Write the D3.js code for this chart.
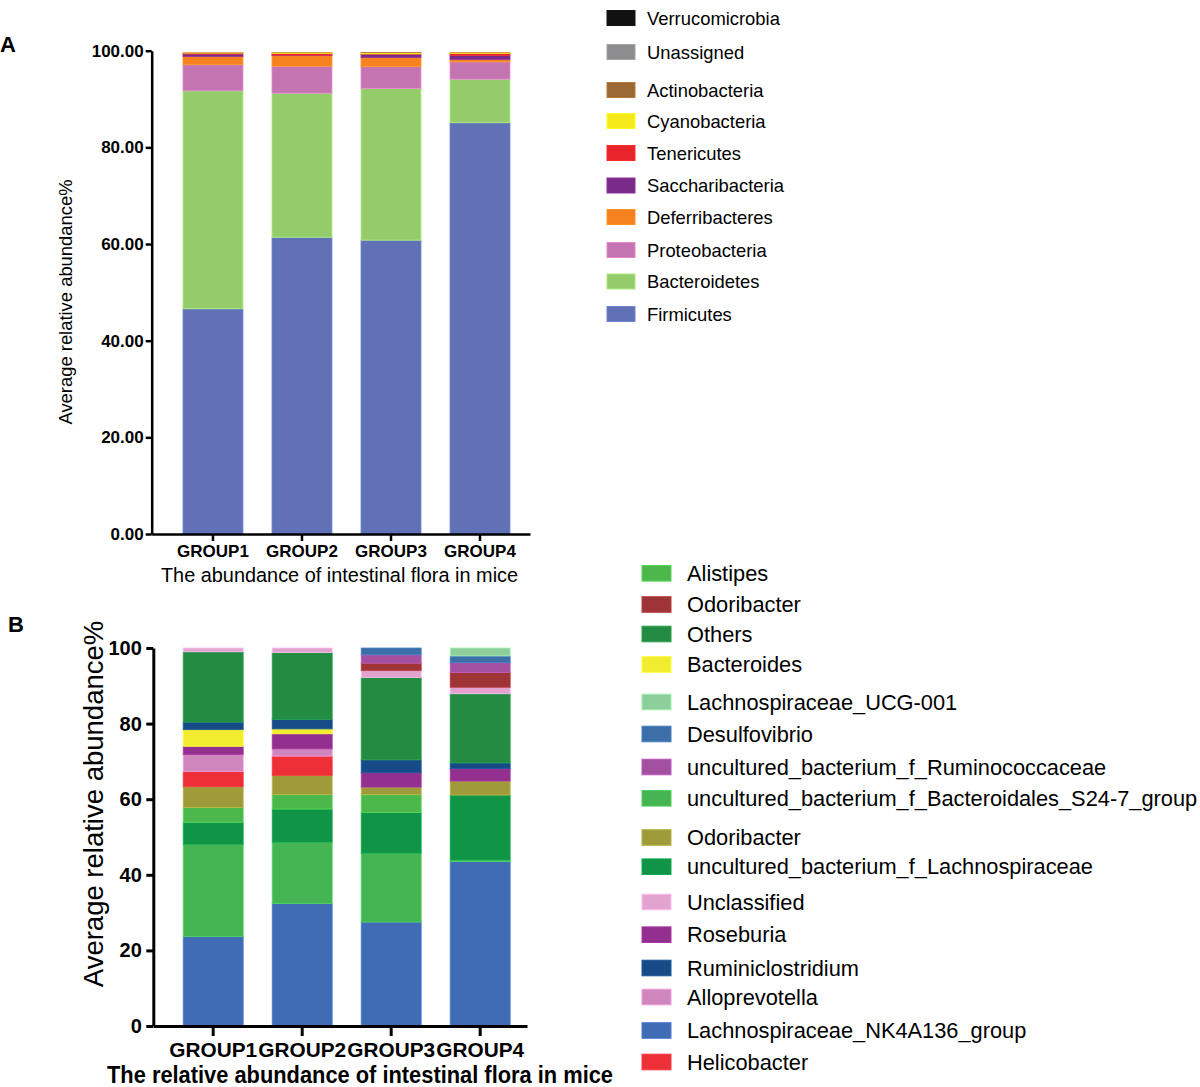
<!DOCTYPE html>
<html>
<head>
<meta charset="utf-8">
<script src="https://cdn.jsdelivr.net/npm/d3@7"></script>
<style>
  body { margin: 0; background: #fff; }
  text { font-family: "Liberation Sans", Arial, Helvetica, sans-serif; fill: #000; }
</style>
</head>
<body>
<svg id="chart" width="1200" height="1087"></svg>
<script>
var groups = ["GROUP1", "GROUP2", "GROUP3", "GROUP4"];

// ---- panel A: phylum level (stack order, bottom first)
var phyla = ["Firmicutes", "Bacteroidetes", "Proteobacteria", "Deferribacteres", "Saccharibacteria",
  "Tenericutes", "Cyanobacteria", "Actinobacteria", "Unassigned", "Verrucomicrobia"];
var phylaColors = ["#6171b6", "#94cc6b", "#c475b1", "#f5821f", "#7a2a88",
  "#e9242a", "#f4ea1a", "#9b6934", "#8d8d8f", "#111111"];
var firmicutes = [46.6, 61.4, 60.8, 85.1];
var bacteroidetes = [45.1, 29.8, 31.4, 9.0];
var proteobacteria = [5.4, 5.6, 4.5, 3.6];
var deferribacteres = [1.7, 2.2, 1.9, 0.5];
var saccharibacteria = [0.5, 0.1, 0.7, 0.85];
var tenericutes = [0.2, 0.35, 0.05, 0.4];
var cyanobacteria = [0.02, 0.12, 0.25, 0.12];
var actinobacteria = [0.01, 0.01, 0.01, 0.01];
var unassigned = [0, 0, 0, 0];
var verrucomicrobia = [0, 0, 0, 0];
var phylaValues = [firmicutes, bacteroidetes, proteobacteria, deferribacteres, saccharibacteria,
  tenericutes, cyanobacteria, actinobacteria, unassigned, verrucomicrobia];
var ticksA = [0, 20, 40, 60, 80, 100];

// ---- panel B: genus level
var alistipes = [3.9, 3.8, 4.7, 0];
var odoribacterRed = [0, 0, 2.0, 3.9];
var others = [18.6, 17.7, 21.8, 18.3];
var bacteroides = [4.4, 1.3, 0, 0];
var lachnoUCG001 = [0, 0, 0, 2.1];
var desulfovibrio = [0, 0, 1.8, 1.8];
var uncRuminococcaceae = [0, 0, 2.2, 2.6];
var uncS24_7 = [24.3, 16.2, 18.2, 0.4];
var odoribacterOlive = [5.5, 5.1, 2.0, 3.7];
var uncLachnospiraceae = [5.9, 8.8, 10.8, 17.2];
var unclassified = [1.0, 1.2, 1.8, 1.7];
var roseburia = [2.2, 4.0, 3.8, 3.3];
var ruminiclostridium = [2.0, 2.5, 3.4, 1.5];
var alloprevotella = [4.5, 1.9, 0, 0];
var nk4a136 = [23.7, 32.4, 27.5, 43.5];
var helicobacter = [4.0, 5.1, 0, 0];

// legend order (top to bottom)
var genera = ["Alistipes", "Odoribacter", "Others", "Bacteroides", "Lachnospiraceae_UCG-001",
  "Desulfovibrio", "uncultured_bacterium_f_Ruminococcaceae", "uncultured_bacterium_f_Bacteroidales_S24-7_group",
  "Odoribacter", "uncultured_bacterium_f_Lachnospiraceae", "Unclassified", "Roseburia",
  "Ruminiclostridium", "Alloprevotella", "Lachnospiraceae_NK4A136_group", "Helicobacter"];
var generaColors = ["#4cb84c", "#9e3436", "#238b42", "#f2ec2e", "#8ccf9a",
  "#3c6ea8", "#a34fa2", "#44b552", "#9f9b3b", "#109445", "#e2a3ce", "#922f8f",
  "#174b87", "#cf86bd", "#406bb5", "#ed2f37"];
var generaValues = [alistipes, odoribacterRed, others, bacteroides, lachnoUCG001,
  desulfovibrio, uncRuminococcaceae, uncS24_7, odoribacterOlive, uncLachnospiraceae,
  unclassified, roseburia, ruminiclostridium, alloprevotella, nk4a136, helicobacter];
// stacking order, bottom first (indices into genera)
var stackOrderB = [14, 7, 9, 0, 8, 15, 13, 11, 3, 12, 2, 10, 1, 6, 5, 4];
var ticksB = [0, 20, 40, 60, 80, 100];

var svg = d3.select("#chart");

function buildTable(values, n) {
  return groups.map(function (g, i) {
    var row = { group: g };
    for (var k = 0; k < n; k++) row["s" + k] = values[k][i];
    return row;
  });
}

// ================= PANEL A =================
var xA = d3.scaleBand().domain(groups).range([151.7, 530])
  .paddingInner(0.3258).paddingOuter(0.288).align(0.61);
var yA = d3.scaleLinear().domain([0, 100]).range([534, 50.7]);

var tableA = buildTable(phylaValues, phyla.length);
var stackA = d3.stack().keys(phyla.map(function (d, i) { return "s" + i; }))(tableA);

svg.append("g").selectAll("g")
  .data(stackA)
  .join("g")
  .attr("fill", function (d, i) { return phylaColors[i]; })
  .attr("stroke", function (d, i) { return d3.color(phylaColors[i]).brighter(0.5); })
  .attr("stroke-width", 0.8)
  .selectAll("rect")
  .data(function (d) { return d.filter(function (s) { return s[1] - s[0] > 0; }); })
  .join("rect")
  .attr("x", function (d) { return xA(d.data.group); })
  .attr("width", xA.bandwidth())
  .attr("y", function (d) { return yA(d[1]); })
  .attr("height", function (d) { return Math.max(0, yA(d[0]) - yA(d[1])); });

var axA = svg.append("g")
  .attr("transform", "translate(151.7,0)")
  .call(d3.axisLeft(yA).tickValues(ticksA).tickFormat(d3.format(".2f"))
    .tickSize(6).tickPadding(2).tickSizeOuter(0));
var axAx = svg.append("g")
  .attr("transform", "translate(0,534)")
  .call(d3.axisBottom(xA).tickSize(7).tickPadding(4).tickSizeOuter(0));
[axA, axAx].forEach(function (a) {
  a.selectAll("path, line").attr("stroke", "#000").attr("stroke-width", 2.5);
  a.selectAll("text").attr("font-size", 17).attr("font-weight", "bold")
    .attr("font-family", "'Liberation Sans', Arial, sans-serif").attr("fill", "#000");
});

svg.append("text").attr("x", 0).attr("y", 52)
  .attr("font-size", 22).attr("font-weight", "bold").text("A");
svg.append("text")
  .attr("transform", "translate(72,302) rotate(-90)")
  .attr("text-anchor", "middle").attr("font-size", 18.4)
  .text("Average relative abundance%");
svg.append("text").attr("x", 339.5).attr("y", 582)
  .attr("text-anchor", "middle").attr("font-size", 19.9)
  .text("The abundance of intestinal flora in mice");

// legend A (reverse of the stack)
var legendAY = [18, 52, 90, 121, 153, 185.5, 217, 250, 281.5, 314];
var legA = svg.append("g").selectAll("g")
  .data(phyla.slice().reverse())
  .join("g")
  .attr("transform", function (d, i) { return "translate(607," + legendAY[i] + ")"; });
legA.append("rect")
  .attr("x", 0).attr("y", -7.5).attr("width", 28).attr("height", 15)
  .attr("fill", function (d) { return phylaColors[phyla.indexOf(d)]; })
  .attr("stroke", function (d) { return d3.color(phylaColors[phyla.indexOf(d)]).brighter(0.4); })
  .attr("stroke-width", 1);
legA.append("text")
  .attr("x", 40).attr("y", 6.5)
  .attr("font-size", 18.4)
  .text(function (d) { return d; });

// ================= PANEL B =================
var xB = d3.scaleBand().domain(groups).range([153.3, 527])
  .paddingInner(0.3258).paddingOuter(0.2624).align(0.64);
var yB = d3.scaleLinear().domain([0, 100]).range([1026, 648]);

var tableB = buildTable(generaValues, genera.length);
var stackB = d3.stack().keys(stackOrderB.map(function (k) { return "s" + k; }))(tableB);

svg.append("g").selectAll("g")
  .data(stackB)
  .join("g")
  .attr("fill", function (d, i) { return generaColors[stackOrderB[i]]; })
  .attr("stroke", function (d, i) { return d3.color(generaColors[stackOrderB[i]]).brighter(0.5); })
  .attr("stroke-width", 0.8)
  .selectAll("rect")
  .data(function (d) { return d.filter(function (s) { return s[1] - s[0] > 0; }); })
  .join("rect")
  .attr("x", function (d) { return xB(d.data.group); })
  .attr("width", xB.bandwidth())
  .attr("y", function (d) { return yB(d[1]); })
  .attr("height", function (d) { return Math.max(0, yB(d[0]) - yB(d[1])); });

var axB = svg.append("g")
  .attr("transform", "translate(153.3,0)")
  .call(d3.axisLeft(yB).tickValues(ticksB).tickFormat(d3.format("d"))
    .tickSize(7).tickPadding(4.5).tickSizeOuter(0));
axB.selectAll("text").attr("font-size", 20);
var axBx = svg.append("g")
  .attr("transform", "translate(0,1026)")
  .call(d3.axisBottom(xB).tickSize(10).tickPadding(6).tickSizeOuter(0));
axBx.selectAll("text").attr("font-size", 20.8);
[axB, axBx].forEach(function (a) {
  a.selectAll("path, line").attr("stroke", "#000").attr("stroke-width", 3);
  a.selectAll("text").attr("font-weight", "bold")
    .attr("font-family", "'Liberation Sans', Arial, sans-serif").attr("fill", "#000");
});

svg.append("text").attr("x", 8).attr("y", 632)
  .attr("font-size", 22).attr("font-weight", "bold").text("B");
svg.append("text")
  .attr("transform", "translate(103,804) rotate(-90)")
  .attr("text-anchor", "middle").attr("font-size", 27.5)
  .text("Average relative abundance%");
svg.append("text").attr("x", 107).attr("y", 1083)
  .attr("font-size", 23).attr("font-weight", "bold")
  .attr("textLength", 506).attr("lengthAdjust", "spacingAndGlyphs")
  .text("The relative abundance of intestinal flora in mice");

var legendBY = [573.3, 604.5, 634, 664.5, 702, 734, 767, 798.3,
  837.5, 866.7, 902, 934.7, 968, 997, 1030.5, 1062];
var legB = svg.append("g").selectAll("g")
  .data(genera)
  .join("g")
  .attr("transform", function (d, i) { return "translate(642," + legendBY[i] + ")"; });
legB.append("rect")
  .attr("x", 0).attr("y", -7.8).attr("width", 29).attr("height", 15.6)
  .attr("fill", function (d, i) { return generaColors[i]; })
  .attr("stroke", function (d, i) { return d3.color(generaColors[i]).brighter(0.4); })
  .attr("stroke-width", 1);
legB.append("text")
  .attr("x", 45).attr("y", 7.7)
  .attr("font-size", 21.8)
  .text(function (d) { return d; });
</script>
</body>
</html>
